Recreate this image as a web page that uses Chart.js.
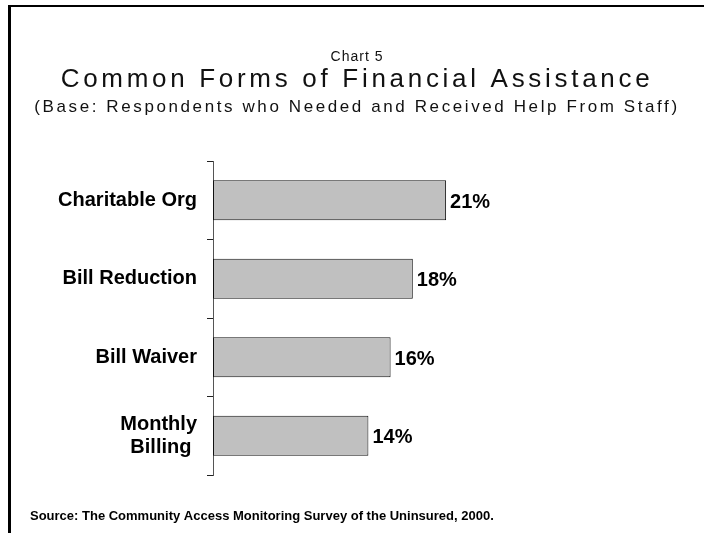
<!DOCTYPE html>
<html>
<head>
<meta charset="utf-8">
<script src="https://cdn.jsdelivr.net/npm/chart.js@4/dist/chart.umd.min.js"></script>
<style>
  body { margin: 0; background: #fff; }
  #wrap { position: relative; width: 704px; height: 533px; overflow: hidden; }
  #frame { position: absolute; left: 8px; top: 5px; right: -20px; bottom: -20px;
           border-left: 3px solid #000; border-top: 2px solid #000; }
  #c { position: absolute; left: 0; top: 0; }
</style>
</head>
<body>
<div id="wrap">
  <div id="frame"></div>
  <canvas id="c" width="704" height="533"></canvas>
</div>
<script>
// data
var categories = ['Charitable Org', 'Bill Reduction', 'Bill Waiver', ['Monthly', 'Billing ']];
var percents = [21, 18, 16, 14];
var headerLines = ['Chart 5', 'Common Forms of Financial Assistance', '(Base: Respondents who Needed and Received Help From Staff)'];
var sourceNote = 'Source: The Community Access Monitoring Survey of the Uninsured, 2000.';

// header + source lines, drawn as canvas text
var textPlugin = {
  id: 'pageText',
  afterDraw: function(chart) {
    var ctx = chart.ctx;
    var styles = [
      { font: '14px "Liberation Sans", Arial', y: 61, ls: '1px' },
      { font: '26px "Liberation Sans", Arial', y: 87, ls: '3.7px' },
      { font: '17px "Liberation Sans", Arial', y: 112, ls: '2.6px' }
    ];
    ctx.save();
    ctx.fillStyle = '#111';
    ctx.textAlign = 'center';
    ctx.textBaseline = 'alphabetic';
    for (var i = 0; i < headerLines.length; i++) {
      ctx.font = styles[i].font;
      ctx.letterSpacing = styles[i].ls;
      ctx.fillText(headerLines[i], 357, styles[i].y);
    }
    ctx.letterSpacing = '0px';
    ctx.textAlign = 'left';
    ctx.fillStyle = '#000';
    ctx.font = 'bold 13px "Liberation Sans", Arial';
    ctx.fillText(sourceNote, 30, 520);
    ctx.restore();
  }
};

// value labels at the end of each bar
var valueLabels = {
  id: 'valueLabels',
  afterDatasetsDraw: function(chart) {
    var ctx = chart.ctx;
    var meta = chart.getDatasetMeta(0);
    ctx.save();
    ctx.font = 'bold 20px "Liberation Sans", Arial';
    ctx.fillStyle = '#000';
    ctx.textAlign = 'left';
    ctx.textBaseline = 'middle';
    meta.data.forEach(function(bar, i) {
      ctx.fillText(percents[i] + '%', bar.x + 4, bar.y + 2);
    });
    ctx.restore();
  }
};

new Chart(document.getElementById('c'), {
  type: 'bar',
  data: {
    labels: categories,
    datasets: [{
      data: percents,
      backgroundColor: '#c0c0c0',
      borderColor: '#111',
      borderWidth: 1,
      borderSkipped: false,
      barPercentage: 0.51,
      categoryPercentage: 1
    }]
  },
  options: {
    indexAxis: 'y',
    responsive: false,
    animation: false,
    layout: { padding: { top: 161, bottom: 58, left: 0, right: 47 } },
    plugins: {
      legend: { display: false },
      tooltip: { enabled: false }
    },
    scales: {
      x: { display: false, min: 0, max: 40 },
      y: {
        position: 'left',
        grid: { drawOnChartArea: false, drawTicks: true, tickLength: 6, color: '#222', offset: true },
        border: { display: true, color: '#555', width: 1 },
        ticks: {
          color: '#000',
          padding: 10,
          font: { family: '"Liberation Sans", Arial', size: 20, weight: 'bold', lineHeight: 1.15 }
        },
        afterFit: function(scale) { scale.width = 213; }
      }
    }
  },
  plugins: [textPlugin, valueLabels]
});
</script>
</body>
</html>
